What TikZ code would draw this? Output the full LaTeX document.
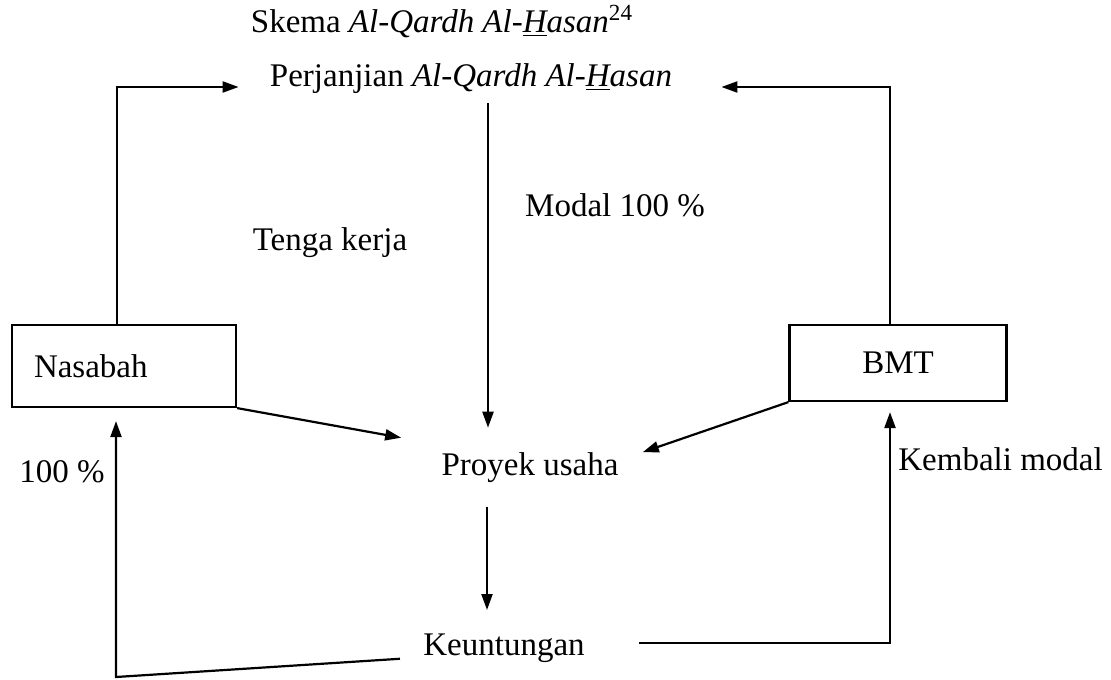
\documentclass[tikz,border=0pt]{standalone}
\usepackage{fontspec}
\setmainfont{Liberation Serif}
\usetikzlibrary{arrows.meta}
\begin{document}
\begin{tikzpicture}[x=0.5pt,y=-0.5pt,
  every node/.style={font=\fontsize{16.5}{20}\selectfont, inner sep=0pt},
  lbl/.style={anchor=base},
  boxnode/.style={draw, line width=1.1pt},
  conn/.style={line width=1.1pt},
  arr/.style={conn, -{Triangle[length=8pt,width=5.5pt]}}]
\useasboundingbox (0,0) rectangle (1111,679);
% texts
\node[lbl] (title) at (442,33) {Skema \textit{Al-Qardh Al-\underline{H}asan}\textsuperscript{24}};
\node[lbl, inner ysep=4.5pt] (perj) at (471,87) {Perjanjian \textit{Al-Qardh Al-\underline{H}asan}};
\node[lbl] (modal) at (615,216) {Modal 100 \%};
\node[lbl] (tenaga) at (330,250) {Tenga kerja};
\node[lbl, inner sep=12pt] (proy) at (530,475) {Proyek usaha};
\node[lbl, inner sep=11.5pt] (keun) at (504,655) {Keuntungan};
\node[lbl] (pct) at (62,482) {100 \%};
\node[anchor=base west] (kembali) at (898,470) {Kembali modal};
% boxes
\node[boxnode, text width=90pt, align=left, inner xsep=11pt, minimum height=41pt] (nas) at (124,366) {Nasabah};
\node[boxnode, minimum width=108.5pt, minimum height=38pt] (bmt) at (898,363) {BMT};
\coordinate (lc) at (116,677);
% connectors
\draw[arr] ([xshift=-3.5pt]nas.north) |- ([xshift=-15.5pt]perj.base west);
\draw[arr] ([xshift=-4pt]bmt.north) |- ([xshift=24.5pt]perj.base east);
\draw[arr] ([xshift=8.5pt]perj.south) -- ([xshift=-21pt]proy.north);
\draw[arr] (nas.south east) -- ([xshift=-8pt,yshift=-5pt]proy.north west);
\draw[arr] (bmt.south west) -- ([yshift=7.5pt]proy.east);
\draw[arr] ([xshift=-21.5pt]proy.south) -- ([xshift=-8.5pt]keun.north);
\draw[arr] ([xshift=15.5pt,yshift=2.5pt]keun.east) -| ([xshift=-4pt,yshift=-5pt]bmt.south);
\draw[arr] ([yshift=-5.5pt]keun.west) -- (lc) -- ([xshift=-4pt,yshift=-6.5pt]nas.south);
\end{tikzpicture}
\end{document}
